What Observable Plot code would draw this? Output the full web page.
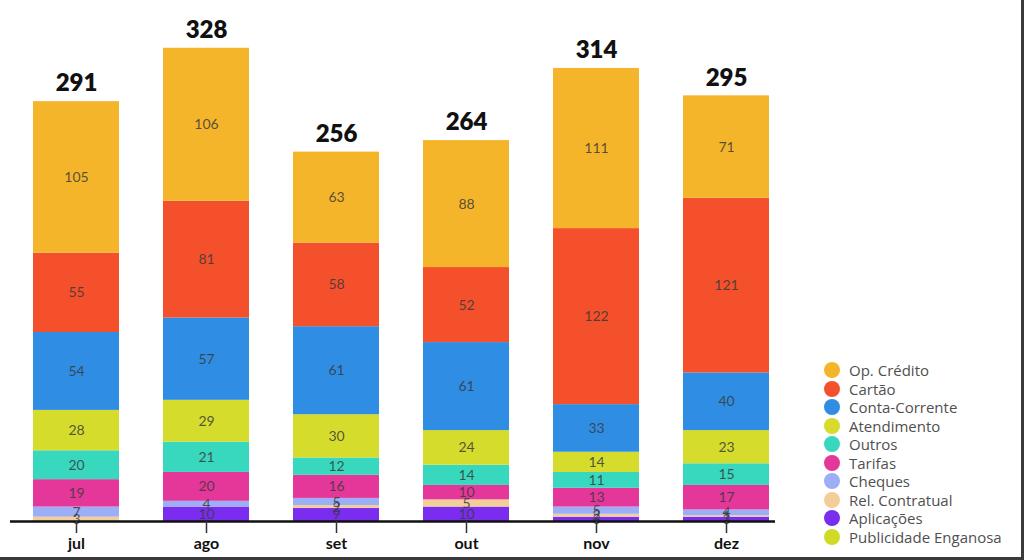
<!DOCTYPE html>
<html>
<head>
<meta charset="utf-8">
<script src="https://cdn.jsdelivr.net/npm/d3@7"></script>
<script src="https://cdn.jsdelivr.net/npm/@observablehq/plot@0.6"></script>
<style>
  html, body { margin: 0; padding: 0; background: #fff; }
  #wrap { position: relative; width: 1024px; height: 560px; overflow: hidden; font-family: Lato, "Open Sans", sans-serif; }
  #chart { position: absolute; left: 0; top: 0; }
  #legend { position: absolute; left: 824px; top: 361px; font-family: "Open Sans", sans-serif; }
  .item { display: flex; align-items: center; height: 18.5px; font-size: 15px; color: #505050; }
  .sw { width: 16px; height: 16px; border-radius: 50%; margin-right: 9px; }
  #frame { position: absolute; left: 0; top: 0; width: 1021px; height: 557px; border-right: 3px solid #3a3a3a; border-bottom: 3px solid #3a3a3a; pointer-events: none; }
</style>
</head>
<body>
<div id="wrap">
  <div id="chart"></div>
  <div id="legend"></div>
  <div id="frame"></div>
</div>
<script>
const months = ["jul", "ago", "set", "out", "nov", "dez"];
const totals = [291, 328, 256, 264, 314, 295];
// series listed top (legend order) to bottom of the stack
const series = ["Op. Crédito", "Cartão", "Conta-Corrente", "Atendimento", "Outros", "Tarifas", "Cheques", "Rel. Contratual", "Aplicações", "Publicidade Enganosa"];
const colors = ["#F5B52B", "#F4502B", "#2F8DE4", "#D5DC2B", "#38D8BF", "#E5369A", "#9BAEF6", "#F3CE99", "#7A2DEF", "#D2DA28"];
const opCredito      = [105, 106, 63, 88, 111, 71];
const cartao         = [55, 81, 58, 52, 122, 121];
const contaCorrente  = [54, 57, 61, 61, 33, 40];
const atendimento    = [28, 29, 30, 24, 14, 23];
const outros         = [20, 21, 12, 14, 11, 15];
const tarifas        = [19, 20, 16, 10, 13, 17];
const cheques        = [7, 4, 5, 0, 5, 4];
const relContratual  = [3, 0, 2, 5, 2, 1];
const aplicacoes     = [0, 10, 9, 10, 3, 3];
const publicidade    = [0, 0, 0, 0, 0, 0];

const values = [opCredito, cartao, contaCorrente, atendimento, outros, tarifas, cheques, relContratual, aplicacoes, publicidade];

// build long table, bottom of stack first
const data = [];
for (let s = series.length - 1; s >= 0; s--) {
  months.forEach((m, i) => data.push({month: m, cat: series[s], value: values[s][i]}));
}
const totalRows = months.map((m, i) => ({month: m, total: totals[i]}));

const plot = Plot.plot({
  width: 800,
  height: 560,
  marginLeft: 10,
  marginRight: 25,
  marginTop: 16,
  marginBottom: 39,
  style: {fontFamily: "Lato, 'Open Sans', sans-serif", background: "transparent"},
  x: {domain: months, range: [11, 791], paddingInner: 0.34, paddingOuter: 0.17, label: null},
  y: {domain: [0, 350], axis: null},
  color: {domain: series, range: colors},
  marks: [
    Plot.barY(data, Plot.stackY({x: "month", y: "value", fill: "cat", order: null})),
    Plot.text(data, Plot.stackY({
      x: "month", y: "value", z: "cat", order: null,
      text: d => d.value > 0 ? String(d.value) : "",
      fill: "#3a3a3a", fillOpacity: 0.85, fontSize: 14
    })),
    Plot.text(totalRows, {x: "month", y: "total", text: d => String(d.total), dy: -18, fontSize: 24, fontWeight: 800, fill: "#111"}),
    Plot.ruleY([0], {stroke: "#111", strokeWidth: 2.5}),
    Plot.axisX({tickSize: 12, tickPadding: 4, fontSize: 16, fontWeight: "bold", color: "#111", stroke: "#333", strokeWidth: 1.5})
  ]
});
document.getElementById("chart").appendChild(plot);

const legend = document.getElementById("legend");
series.forEach((s, i) => {
  const row = document.createElement("div");
  row.className = "item";
  const sw = document.createElement("span");
  sw.className = "sw";
  sw.style.background = colors[i];
  const t = document.createElement("span");
  t.textContent = s;
  row.appendChild(sw);
  row.appendChild(t);
  legend.appendChild(row);
});
</script>
</body>
</html>
